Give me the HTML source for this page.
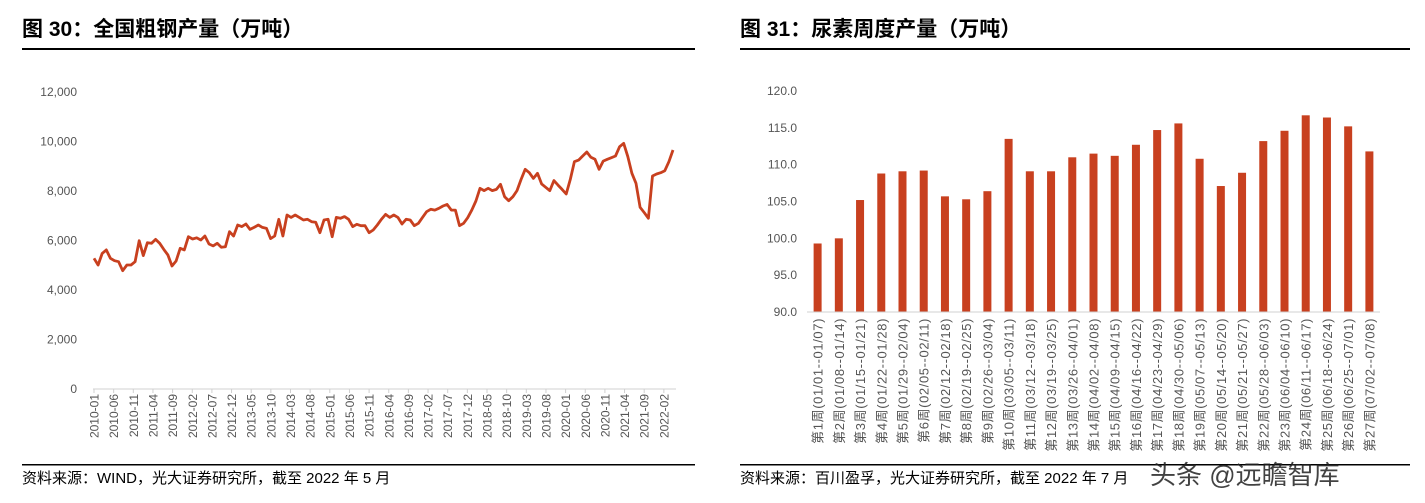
<!DOCTYPE html>
<html><head><meta charset="utf-8"><style>
body{margin:0;width:1425px;height:503px;background:#fff;overflow:hidden;font-family:"Liberation Sans","Noto Sans CJK SC",sans-serif;}
svg{position:absolute;left:0;top:0}
</style></head><body>
<svg id="s" width="1425" height="503" xmlns="http://www.w3.org/2000/svg">
<text x="22" y="36" font-size="21" font-weight="bold" fill="#000" font-family="Liberation Sans,Noto Sans CJK SC,sans-serif">图 30：全国粗钢产量（万吨）</text>
<rect x="22" y="48" width="673" height="2" fill="#000"/>
<text x="740" y="36" font-size="21" font-weight="bold" fill="#000" font-family="Liberation Sans,Noto Sans CJK SC,sans-serif">图 31：尿素周度产量（万吨）</text>
<rect x="740" y="48" width="670" height="2" fill="#000"/>
<rect x="22" y="464" width="673" height="1.5" fill="#000"/>
<rect x="740" y="464" width="670" height="1.5" fill="#000"/>
<text x="22" y="483" font-size="15" fill="#000" font-family="Liberation Sans,Noto Sans CJK SC,sans-serif">资料来源：WIND，光大证券研究所，截至 2022 年 5 月</text>
<text x="740" y="483" font-size="15" fill="#000" font-family="Liberation Sans,Noto Sans CJK SC,sans-serif">资料来源：百川盈孚，光大证券研究所，截至 2022 年 7 月</text>
<text x="1150" y="484" font-size="26" fill="#222" opacity="0.85" font-family="Liberation Sans,Noto Sans CJK SC,sans-serif">头条 @远瞻智库</text>
<g id="left"></g><g id="right"></g>
</svg>
<script>
const steelValues=[5280,5010,5480,5620,5280,5185,5145,4780,5010,5010,5145,5990,5390,5910,5885,6045,5885,5640,5415,4970,5170,5685,5620,6155,6060,6110,6020,6180,5860,5780,5885,5725,5750,6355,6180,6625,6560,6665,6450,6530,6625,6530,6490,6075,6180,6855,6180,7030,6935,7030,6935,6830,6855,6760,6735,6315,6830,6855,6155,6935,6895,6965,6855,6560,6655,6600,6600,6315,6425,6625,6855,7055,6935,7030,6935,6665,6855,6830,6600,6695,6935,7165,7260,7230,7300,7395,7460,7230,7230,6600,6695,6920,7230,7595,8110,8015,8110,8015,8065,8270,7770,7610,7770,8015,8470,8875,8740,8510,8715,8285,8150,8015,8420,8240,8065,7880,8470,9185,9250,9415,9575,9360,9280,8875,9210,9280,9345,9415,9790,9925,9390,8715,8310,7340,7125,6895,8605,8685,8740,8820,9185,9655];
const steelTicks=[0,2000,4000,6000,8000,10000,12000];
const steelXLabels=["2010-01","2010-06","2010-11","2011-04","2011-09","2012-02","2012-07","2012-12","2013-05","2013-10","2014-03","2014-08","2015-01","2015-06","2015-11","2016-04","2016-09","2017-02","2017-07","2017-12","2018-05","2018-10","2019-03","2019-08","2020-01","2020-06","2020-11","2021-04","2021-09","2022-02"];
const ureaWeeks=["第1周(01/01--01/07)","第2周(01/08--01/14)","第3周(01/15--01/21)","第4周(01/22--01/28)","第5周(01/29--02/04)","第6周(02/05--02/11)","第7周(02/12--02/18)","第8周(02/19--02/25)","第9周(02/26--03/04)","第10周(03/05--03/11)","第11周(03/12--03/18)","第12周(03/19--03/25)","第13周(03/26--04/01)","第14周(04/02--04/08)","第15周(04/09--04/15)","第16周(04/16--04/22)","第17周(04/23--04/29)","第18周(04/30--05/06)","第19周(05/07--05/13)","第20周(05/14--05/20)","第21周(05/21--05/27)","第22周(05/28--06/03)","第23周(06/04--06/10)","第24周(06/11--06/17)","第25周(06/18--06/24)","第26周(06/25--07/01)","第27周(07/02--07/08)"];
const ureaValues=[99.3,100.0,105.2,108.8,109.1,109.2,105.7,105.3,106.4,113.5,109.1,109.1,111.0,111.5,111.2,112.7,114.7,115.6,110.8,107.1,108.9,113.2,114.6,116.7,116.4,115.2,111.8];
const ureaTicks=[90,95,100,105,110,115,120];

const NS="http://www.w3.org/2000/svg";
function mk(p,t,a){const e=document.createElementNS(NS,t);for(const k in a)e.setAttribute(k,a[k]);p.appendChild(e);return e;}
const F="Liberation Sans,Noto Sans CJK SC,sans-serif";

// left chart
const L=document.getElementById('left');
const lx0=94,lxEnd=673,ly0=389,ly1=92,monthW=3.93;
const lX=i=>lx0+(lxEnd-lx0)*i/(steelValues.length-1);
const lY=v=>ly0-(ly0-ly1)*v/12000;
steelTicks.forEach(t=>{const e=mk(L,'text',{x:77,y:lY(t)+4,'font-size':12,fill:'#555','text-anchor':'end','font-family':F});e.textContent=t.toLocaleString('en-US');

});
const la=mk(L,'line',{x1:lx0-1,y1:ly0,x2:lxEnd+3,y2:ly0,stroke:'#d0d0d0','stroke-width':1});


steelXLabels.forEach((s,k)=>{const x=lx0+k*5*monthW;
const tk=mk(L,'line',{x1:x,y1:ly0,x2:x,y2:ly0+4,stroke:'#d0d0d0'});


const e=mk(L,'text',{x:0,y:0,'font-size':12,fill:'#555','text-anchor':'end','font-family':F,transform:`translate(${x+4.5},${ly0+5}) rotate(-90)`});e.textContent=s;

});
const pl=mk(L,'polyline',{points:steelValues.map((v,i)=>lX(i).toFixed(1)+','+lY(v).toFixed(1)).join(' '),fill:'none',stroke:'#c8401f','stroke-width':2.8,'stroke-linejoin':'round'});



// right chart
const R=document.getElementById('right');
const ry0=312,ry1=91,rax0=807,rax1=1380;
const rY=v=>ry0-(ry0-ry1)*(v-90)/30;
const step=(rax1-rax0)/ureaValues.length;
const rX=i=>rax0+step*(i+0.5);
ureaTicks.forEach(t=>{const e=mk(R,'text',{x:797,y:rY(t)+4,'font-size':12,fill:'#555','text-anchor':'end','font-family':F});e.textContent=t.toFixed(1);

});
ureaValues.forEach((v,i)=>{const b=mk(R,'rect',{x:rX(i)-4,y:rY(v),width:8,height:ry0-rY(v),fill:'#c8401f'});

});
const ra=mk(R,'line',{x1:rax0,y1:ry0,x2:rax1,y2:ry0,stroke:'#d0d0d0','stroke-width':1});


ureaWeeks.forEach((s,i)=>{const x=rX(i);
const e=mk(R,'text',{x:0,y:0,'font-size':13,fill:'#555','text-anchor':'end','font-family':F,'letter-spacing':'0.6',transform:`translate(${x+5},${ry0+6}) rotate(-90)`});e.textContent=s;

});
</script>
</body></html>
